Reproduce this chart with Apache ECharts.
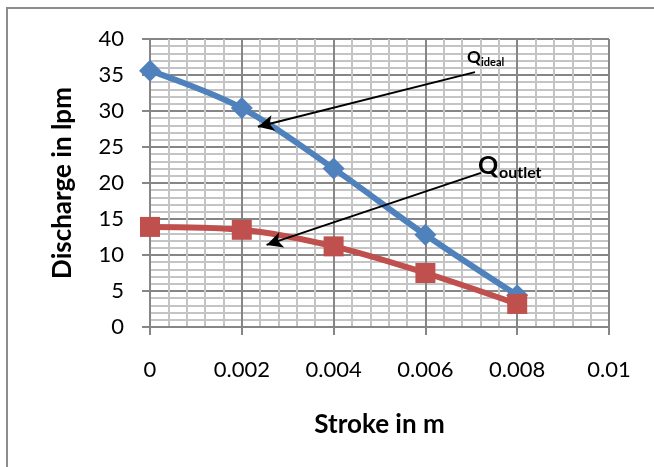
<!DOCTYPE html>
<html>
<head>
<meta charset="utf-8">
<script src="https://cdn.jsdelivr.net/npm/echarts@6/dist/echarts.min.js"></script>
<style>
  html, body { margin: 0; padding: 0; background: #fff; }
  #chart { width: 654px; height: 467px; }
</style>
</head>
<body>
<div id="chart"></div>
<script>
// stroke positions (m)
const stroke = [0, 0.002, 0.004, 0.006, 0.008]
// discharge values (lpm)
const qIdeal = [35.6, 30.4, 22.0, 12.8, 4.4]
const qOutlet = [13.9, 13.5, 11.2, 7.5, 3.2]

// annotation arrows in data coords: [from, to]
const idealArrow = [[0.00708, 35.4], [0.00235, 27.8]]
const outletArrow = [[0.00721, 21.4], [0.00254, 11.4]]

const font = 'Lato, "Open Sans", sans-serif'
const chart = echarts.init(document.getElementById('chart'))

const arrowLine = (pts) => ({
  silent: true,
  symbol: ['none', 'arrow'],
  symbolSize: [12, 16],
  label: { show: false },
  lineStyle: { color: '#000', width: 2, type: 'solid' },
  data: [[{ coord: pts[0] }, { coord: pts[1] }]],
})

const axisCommon = {
  nameLocation: 'middle',
  nameTextStyle: { fontFamily: font, fontWeight: 'bold', fontSize: 26, color: '#000' },
  axisLine: { show: true, lineStyle: { color: '#868686', width: 2 } },
  axisTick: { show: true, length: 8, lineStyle: { color: '#868686', width: 2 } },
  splitLine: { show: true, lineStyle: { color: '#868686', width: 2 } },
  minorTick: { show: false, splitNumber: 5 },
  minorSplitLine: { show: true, lineStyle: { color: '#c4c4c4', width: 2 } },
}

chart.setOption({
  animation: false,
  backgroundColor: '#fff',
  grid: { left: 150, right: 45, top: 39, bottom: 140 },
  xAxis: {
    ...axisCommon,
    type: 'value',
    min: 0,
    max: 0.01,
    interval: 0.002,
    name: 'Stroke in m',
    nameGap: 85,
    axisLabel: { color: '#000', fontFamily: font, fontSize: 22, margin: 32 },
  },
  yAxis: {
    ...axisCommon,
    type: 'value',
    min: 0,
    max: 40,
    interval: 5,
    name: 'Discharge in lpm',
    nameGap: 74,
    axisLabel: { color: '#000', fontFamily: font, fontSize: 22, margin: 26 },
  },
  series: [
    {
      name: 'Qoutlet',
      type: 'line',
      smooth: 0.35,
      data: stroke.map((x, i) => [x, qOutlet[i]]),
      symbol: 'rect',
      symbolSize: 20,
      itemStyle: { color: '#C0504D' },
      lineStyle: { color: '#C0504D', width: 6 },
      z: 3,
      markLine: arrowLine(outletArrow),
    },
    {
      name: 'Qideal',
      type: 'line',
      smooth: 0.35,
      data: stroke.map((x, i) => [x, qIdeal[i]]),
      symbol: 'diamond',
      symbolSize: 22,
      itemStyle: { color: '#4F81BD' },
      lineStyle: { color: '#4F81BD', width: 6 },
      z: 2,
      markLine: arrowLine(idealArrow),
    },
  ],
  graphic: [
    {
      type: 'rect',
      shape: { x: 7, y: 8, width: 700, height: 500 },
      style: { fill: 'none', stroke: '#8c8c8c', lineWidth: 2 },
      silent: true,
      z: -1,
    },
    {
      type: 'text', x: 467, y: 49, z: 10,
      style: { text: 'Q', font: 'bold 17px ' + font, fill: '#000' },
    },
    {
      type: 'text', x: 481, y: 57, z: 10,
      style: { text: 'ideal', font: 'bold 11px ' + font, fill: '#000' },
    },
    {
      type: 'text', x: 478, y: 153, z: 10,
      style: { text: 'Q', font: 'bold 25px ' + font, fill: '#000' },
    },
    {
      type: 'text', x: 499, y: 165, z: 10,
      style: { text: 'outlet', font: 'bold 16px ' + font, fill: '#000' },
    },
  ],
})
</script>
</body>
</html>
